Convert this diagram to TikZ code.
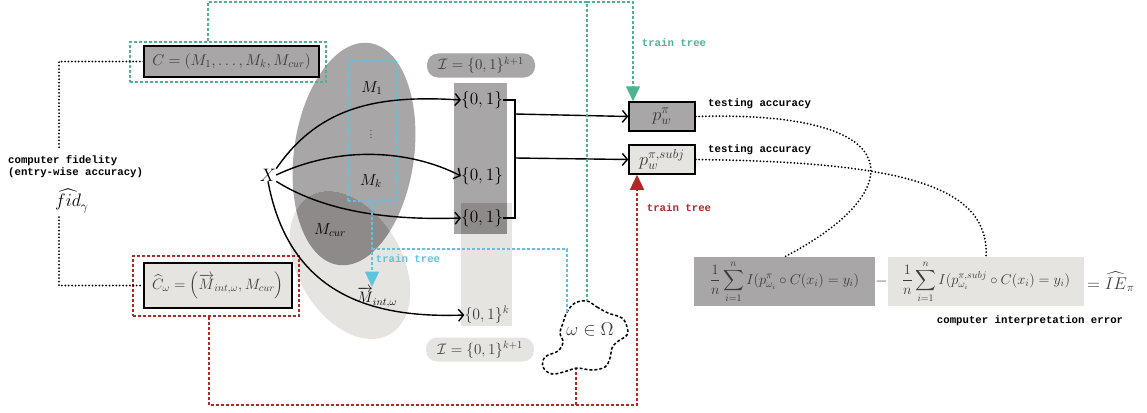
\documentclass[tikz,border=0pt]{standalone}
\usepackage{amsmath,amssymb}
\usepackage{graphicx}
\usepackage{fontspec}
\newfontfamily\ttb{Liberation Mono}
\usetikzlibrary{arrows.meta}
\definecolor{tgreen}{HTML}{4DB391}
\definecolor{tblue}{HTML}{5BC5DE}
\definecolor{tred}{HTML}{B02A24}
\definecolor{dgray}{HTML}{A8A6A6}
\definecolor{lgray}{HTML}{E6E4E1}
\definecolor{ogray}{HTML}{8E8A89}
\definecolor{txt}{HTML}{3A3A3A}
\newcommand\mth[2]{\scalebox{#1}{$#2$}}
\begin{document}
\begin{tikzpicture}[x=1pt,y=-1pt,
  every node/.style={font=\fontsize{14.4}{17}\selectfont, inner sep=0pt},
  ttlab/.style={font=\fontsize{10.7}{12.8}\selectfont\ttb\bfseries},
  gdash/.style={draw=tgreen,line width=1.2pt,dash pattern=on 3pt off 2pt},
  bdash/.style={draw=tblue,line width=1.2pt,dash pattern=on 3pt off 2pt},
  rdash/.style={draw=tred,line width=1.2pt,dash pattern=on 3pt off 2pt},
  dotl/.style={draw=black,line width=2pt,dash pattern=on 0pt off 3.4pt,line cap=round},
  arr/.style={line width=1.4pt,-{Straight Barb[length=5pt,width=12pt]}},
  tri/.style={-{Triangle[width=14pt,length=15pt]}},
  solidbox/.style={draw=black,line width=1.5pt,text=txt},
  pill/.style={rounded corners=11pt,minimum width=108pt,minimum height=24pt,text=txt},
]
\path[use as bounding box] (0,0) rectangle (1147,412);

% ellipses
\fill[dgray,rotate around={-8:(354,154)}] (354,154) ellipse [x radius=60, y radius=112];
\fill[lgray,rotate around={30:(350,265)}] (350,265) ellipse [x radius=52, y radius=80];
\begin{scope}
  \clip[rotate around={-8:(354,154)}] (354,154) ellipse [x radius=60, y radius=112];
  \fill[ogray,rotate around={30:(350,265)}] (350,265) ellipse [x radius=52, y radius=80];
\end{scope}

% columns
\fill[dgray] (454,83) rectangle (507,234);
\fill[lgray] (461,234) rectangle (512,326);
\fill[ogray] (461,203) rectangle (507,234);
\fill[lgray] (507,203) rectangle (512,234);

% boxes
\node[solidbox,fill=dgray,minimum width=175pt,minimum height=31pt] (C) at (231.5,61.5) {\mth{1.08}{C=(M_1,\dots,M_k,M_{cur})}};
\node[gdash,minimum width=196pt,minimum height=40pt] (Cg) at (228,62) {};
\node[solidbox,fill=lgray,minimum width=148pt,minimum height=45pt] (Ch) at (218,285.5) {\mth{1.04}{\widehat{C}_{\omega}=\left(\overrightarrow{M}_{int,\omega},M_{cur}\right)}};
\node[rdash,minimum width=166pt,minimum height=60pt] (Rb) at (216,286) {};

\node[solidbox,fill=dgray,minimum width=66pt,minimum height=29pt] (p1) at (662,116.5) {\mth{1.28}{p_w^{\pi}}};
\node[solidbox,fill=lgray,minimum width=66pt,minimum height=29pt] (p2) at (662,159.5) {\mth{1.28}{p_w^{\pi,subj}}};

\node[pill,fill=dgray] (I1) at (481,65.5) {\mth{1.05}{\mathcal{I}=\{0,1\}^{k+1}}};
\node[pill,fill=lgray] (I2) at (480,349.5) {\mth{1.05}{\mathcal{I}=\{0,1\}^{k+1}}};

% M labels
\node[bdash,minimum width=48pt,minimum height=141pt] (B) at (372,130.5) {};
\node (M1) at (372,88) {\mth{1.1}{M_1}};
\node[text=txt] (Md) at (371,132) {\mth{0.85}{\vdots}};
\node (Mk) at (371,181) {\mth{1.1}{M_k}};
\node (Mc) at (330,230) {\mth{1.1}{M_{cur}}};
\node (Mint) at (377,297) {\mth{1.05}{\overrightarrow{M}_{int,\omega}}};

% {0,1}
\node (z1) at (482,100) {\mth{1.2}{\{0,1\}}};
\node (z2) at (482,176) {\mth{1.2}{\{0,1\}}};
\node (z3) at (482,218) {\mth{1.2}{\{0,1\}}};
\node[text=txt] (zk) at (487,315) {\mth{1.1}{\{0,1\}^k}};

\node (X) at (268,175) {\mth{1.25}{X}};

% arrows from X
\draw[arr] (X.north east) .. controls (320,105) and (380,95) .. (z1.west);
\draw[arr] (X.east) .. controls (340,145) and (410,150) .. (z2.west);
\draw[arr] (X.south east) .. controls (330,215) and (400,220) .. (z3.west);
\draw[arr] (X.south) .. controls (290,300) and (380,318) .. (zk.west);

% bracket
\coordinate (brk) at (515,160);
\draw[line width=1.4pt] (z1.east) -| (brk) |- (z3.east);
\draw[arr] (brk |- 0,114) -- (p1.west);
\draw[arr] (brk |- 0,158) -- (p2.west);

% cloud
\draw[black,line width=1.5pt,dash pattern=on 3pt off 2pt] plot[smooth cycle,tension=0.6] coordinates {
(587,301) (597,307) (608,313) (622,318) (627,327) (627,335) (617,342) (612,348) (610,358) (605,367) (592,370) (577,368) (567,371) (552,374) (543,367) (545,357) (558,351) (563,342) (560,333) (563,323) (567,312) (575,303)};
\node[text=txt] (om) at (590,330) {\mth{1.28}{\omega\in\Omega}};
\coordinate (cg) at (587,301);
\coordinate (cb) at (567,312);
\coordinate (cr) at (576,369);

% green
\coordinate (gtl) at (208,2);
\coordinate (gtr) at (633,2);
\draw[gdash] (Cg.north -| gtl) -- (gtl) -- (cg |- gtl) -- (cg);
\draw[gdash,tri,tgreen] (cg |- gtl) -- (gtr) -- (p1.north -| gtr);
\node[ttlab,text=tgreen] (gl) at (674,43) {train tree};

% blue
\coordinate (bj) at (372,249);
\draw[bdash,tri,tblue] (B.south) -- (B.south |- Mint.north);
\draw[bdash] (B.south |- bj) -| (cb);
\node[ttlab,text=tblue] (bl) at (408,259) {train tree};

% red
\coordinate (rbl) at (209,405);
\coordinate (rbr) at (637,405);
\draw[rdash] (Rb.south -| rbl) -- (rbl) -- (cr |- rbl) -- (cr);
\draw[rdash,tri,tred] (cr |- rbl) -- (rbr) -- (p2.south -| rbr);
\node[ttlab,text=tred] (rl) at (679,208) {train tree};

% left dotted / fidelity
\node[ttlab,align=left,anchor=north west] (fidt) at (8,155) {computer fidelity\\(entry-wise accuracy)};
\node (fid) at (72,201) {\mth{1.25}{\widehat{fid}_{\gamma}}};
\coordinate (d1) at (59,150);
\coordinate (d2) at (59,217);
\draw[dotl] (C.west) -| (d1);
\draw[dotl] (d2) |- (Ch.west);

% right formulas
\node[fill=dgray,minimum width=181pt,minimum height=49pt,text=txt] (f1) at (784.5,281.5) {\mth{1.0}{\displaystyle\frac{1}{n}\sum_{i=1}^{n} I(p^{\pi}_{\omega_i}\circ C(x_i)=y_i)}};
\node[fill=lgray,minimum width=196pt,minimum height=49pt,text=txt] (f2) at (986,281.5) {\mth{1.0}{\displaystyle\frac{1}{n}\sum_{i=1}^{n} I(p^{\pi,subj}_{\omega_i}\circ C(x_i)=y_i)}};
\node[text=txt] (mn) at (881.5,282) {\mth{1.1}{-}};
\node[text=txt,anchor=west] (eq) at (1087,282) {\mth{1.18}{=\widehat{IE}_{\pi}}};
\node[ttlab] (cie) at (1030,321) {computer interpretation error};

\node[ttlab,anchor=west] (ta1) at (708,104) {testing accuracy};
\node[ttlab,anchor=west] (ta2) at (708,150) {testing accuracy};

\draw[dotl] (p1.east) .. controls (920,110) and (905,195) .. (f1.north);
\draw[dotl] (p2.east) .. controls (900,162) and (990,185) .. (f2.north);
\end{tikzpicture}
\end{document}
